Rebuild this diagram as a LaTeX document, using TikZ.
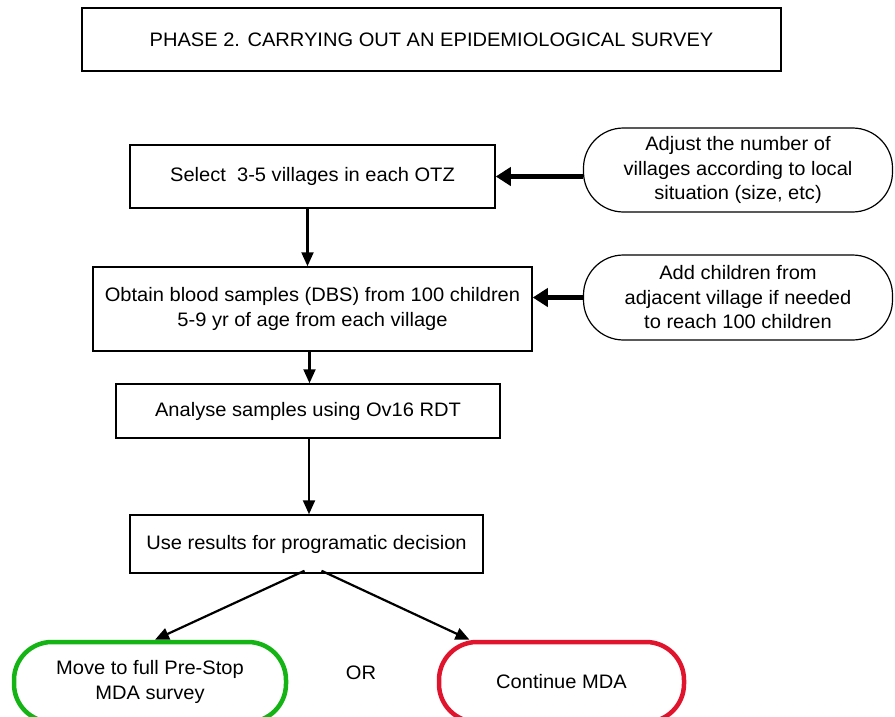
\documentclass[tikz,border=0pt]{standalone}
\usepackage{fontspec}
\setmainfont{Liberation Sans}[FakeStretch=1.03]
\usetikzlibrary{arrows.meta}
\definecolor{okgreen}{RGB}{20,180,20}
\definecolor{stopred}{RGB}{225,20,45}
\begin{document}
\begin{tikzpicture}[x=1pt,y=-1pt,
  every node/.style={font=\fontsize{19.5}{24.5}\selectfont, align=center, inner sep=0pt},
  boxn/.style={draw, line width=1.5pt, rectangle},
  ovaln/.style={draw, line width=1.2pt, rectangle, rounded corners=40pt},
  endn/.style={draw, line width=4.5pt, rectangle, rounded corners=38pt},
  thin/.style={line width=2.2pt, -{Triangle[length=14pt,width=12pt]}},
  thick/.style={line width=5pt, -{Triangle[length=15pt,width=18pt]}}]
\useasboundingbox (0,0) rectangle (895,717);
\node[boxn, minimum width=699pt, minimum height=63pt] (title) at (431.5,39.5) {PHASE 2. CARRYING OUT AN EPIDEMIOLOGICAL SURVEY};
\node[boxn, minimum width=365pt, minimum height=63pt] (b1) at (312.5,176.5) {Select\ \ 3-5 villages in each OTZ};
\node[boxn, minimum width=439pt, minimum height=84pt] (b2) at (312.5,309) {Obtain blood samples (DBS) from 100 children\\5-9 yr of age from each village};
\node[boxn, minimum width=384pt, minimum height=54pt] (b3) at (308,411) {Analyse samples using Ov16 RDT};
\node[boxn, minimum width=353pt, minimum height=58pt] (b4) at (306.5,544) {Use results for programatic decision};
\node[ovaln, minimum width=309pt, minimum height=84pt] (o1) at (738,170) {Adjust the number of\\villages according to local\\situation (size, etc)};
\node[ovaln, minimum width=309pt, minimum height=85pt] (o2) at (738,297.5) {Add children from\\adjacent village if needed\\to reach 100 children};
\node[endn, draw=okgreen, minimum width=272pt, minimum height=80pt] (g) at (150,682) {Move to full Pre-Stop\\MDA survey};
\node[endn, draw=stopred, minimum width=245pt, minimum height=80pt] (r) at (561.5,682) {Continue MDA};
\node (or) at (361,673) {OR};
\draw[thick] (b1.east -| o1.west) -- (b1.east);
\draw[thick] (o2.west) -- (o2.west -| b2.east);
\draw[thin] ([xshift=-5pt]b1.south) -- ([xshift=-5pt]b1.south |- b2.north);
\draw[thin] ([xshift=-3pt]b2.south) -- ([xshift=-3pt]b2.south |- b3.north);
\draw[thin] ([xshift=1pt]b3.south) -- ([xshift=1pt]b3.south |- b4.north);
\draw[thin] ([xshift=-2pt,yshift=3pt]b4.south) -- ([xshift=5pt]g.north);
\draw[thin] ([xshift=15pt,yshift=3pt]b4.south) -- ([xshift=-92pt]r.north);
\end{tikzpicture}
\end{document}
